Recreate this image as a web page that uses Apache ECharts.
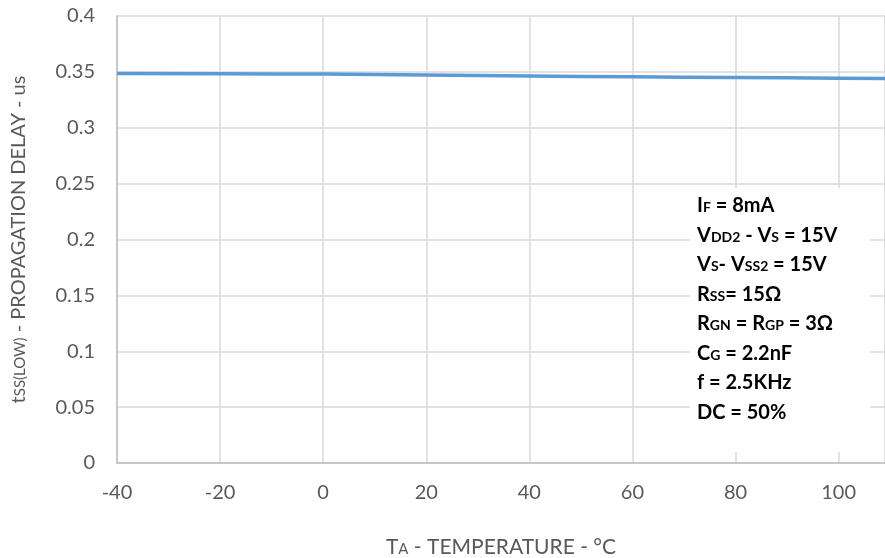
<!DOCTYPE html>
<html>
<head>
<meta charset="utf-8">
<script src="https://cdn.jsdelivr.net/npm/echarts@6/dist/echarts.min.js"></script>
<style>html,body{margin:0;padding:0;background:#fff}#c{width:885px;height:558px}</style>
</head>
<body>
<div id="c"></div>
<script>
var temperatures = [-40, -20, 0, 20, 40, 60, 80, 100, 109];
var delayUs = [0.3485, 0.3483, 0.3480, 0.3472, 0.3463, 0.3456, 0.3450, 0.3444, 0.3440];
var yTicks = [0, 0.05, 0.1, 0.15, 0.2, 0.25, 0.3, 0.35, 0.4];
var xTicks = [-40, -20, 0, 20, 40, 60, 80, 100];
var conditionLines = [
  ['I', 'F', ' = 8mA'],
  ['V', 'DD2', ' - V', 'S', ' = 15V'],
  ['V', 'S', '- V', 'SS2', ' = 15V'],
  ['R', 'SS', '= 15Ω'],
  ['R', 'GN', ' = R', 'GP', ' = 3Ω'],
  ['C', 'G', ' = 2.2nF'],
  ['f = 2.5KHz'],
  ['DC = 50%']
];

var FONT = 'Lato';
var chart = echarts.init(document.getElementById('c'));

var condText = conditionLines.map(function (parts) {
  return parts.map(function (p, i) {
    return (i % 2 === 1) ? '{s|' + p + '}' : '{b|' + p + '}';
  }).join('');
}).join('\n');

chart.setOption({
  animation: false,
  grid: {left: 117, top: 16, right: 0, bottom: 95, containLabel: false, outerBoundsMode: 'none'},
  xAxis: {
    type: 'value',
    min: -40, max: 109, interval: 20,
    axisLine: {show: true, lineStyle: {color: '#bfbfbf', width: 1.5}},
    axisTick: {show: false},
    splitLine: {show: true, lineStyle: {color: '#d9d9d9', width: 1.5}},
    axisLabel: {
      color: '#595959', fontFamily: FONT, fontSize: 20, margin: 20,
      showMaxLabel: false,
      formatter: function (v) { return xTicks.indexOf(v) >= 0 ? String(v) : ''; }
    },
    name: '{m|T}{s|A}{m| - TEMPERATURE - °C}',
    nameLocation: 'middle', nameGap: 74,
    nameTextStyle: {
      rich: {
        m: {color: '#595959', fontFamily: FONT, fontSize: 21},
        s: {color: '#595959', fontFamily: FONT, fontSize: 15, padding: [3, 0, 0, 0]}
      }
    }
  },
  yAxis: {
    type: 'value',
    min: 0, max: 0.4, interval: 0.05,
    axisLine: {show: true, onZero: false, lineStyle: {color: '#bfbfbf', width: 1.5}},
    axisTick: {show: false},
    splitLine: {show: true, lineStyle: {color: '#d9d9d9', width: 1.5}},
    axisLabel: {
      color: '#595959', fontFamily: FONT, fontSize: 20, margin: 22,
      formatter: function (v) {
        for (var i = 0; i < yTicks.length; i++) {
          if (Math.abs(yTicks[i] - v) < 1e-9) return String(yTicks[i]);
        }
        return '';
      }
    },
    name: '{m|t}{s|SS(LOW)}{m| - PROPAGATION DELAY - us}',
    nameLocation: 'middle', nameGap: 88, nameRotate: 90,
    nameTextStyle: {
      rich: {
        m: {color: '#595959', fontFamily: FONT, fontSize: 20},
        s: {color: '#595959', fontFamily: FONT, fontSize: 15, padding: [3, 0, 0, 0]}
      }
    }
  },
  graphic: [
    {type: 'rect', left: 690, top: 188, shape: {width: 180, height: 264}, style: {fill: '#ffffff'}, z: 10},
    {type: 'text', left: 697, top: 196, z: 11,
      style: {
        text: condText,
        rich: {
          b: {fontFamily: FONT, fontWeight: 'bold', fontSize: 20, fill: '#000', lineHeight: 29.5},
          s: {fontFamily: FONT, fontWeight: 'bold', fontSize: 14, fill: '#000', padding: [3, 0, 0, 0]}
        }
      }
    }
  ],
  series: [{
    type: 'line',
    data: temperatures.map(function (t, i) { return [t, delayUs[i]]; }),
    showSymbol: false,
    smooth: true,
    lineStyle: {color: '#5b9bd5', width: 3.5},
    z: 5
  }]
});
</script>
</body>
</html>
